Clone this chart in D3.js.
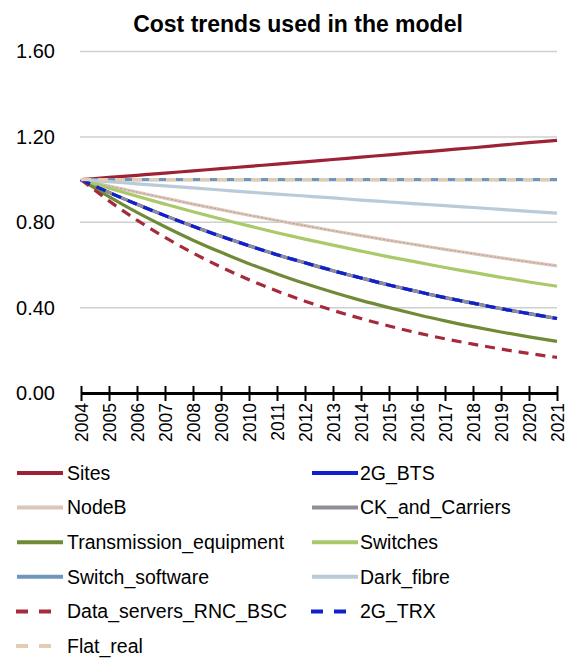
<!DOCTYPE html>
<html>
<head>
<meta charset="utf-8">
<script src="https://cdn.jsdelivr.net/npm/d3@7/dist/d3.min.js"></script>
<style>
  body { margin: 0; background: #ffffff; }
  text { font-family: Arial, "Liberation Sans", sans-serif; fill: #000; }
</style>
</head>
<body>
<svg id="chart" width="570" height="658"></svg>
<script>
// Year categories and y-axis ticks
const years = ["2004","2005","2006","2007","2008","2009","2010","2011","2012",
               "2013","2014","2015","2016","2017","2018","2019","2020","2021"];
const yTicks = [0, 0.4, 0.8, 1.2, 1.6];

// Cost index per series (2004 = 1.00)
const sites = [1.000,1.010,1.020,1.030,1.041,1.051,1.062,1.072,1.083,1.094,1.105,1.116,1.127,1.138,1.149,1.161,1.173,1.184];
const bts2g = [1.000,0.940,0.884,0.831,0.781,0.734,0.690,0.648,0.610,0.573,0.539,0.506,0.476,0.447,0.421,0.395,0.372,0.349];
const nodeB = [1.000,0.970,0.941,0.913,0.885,0.859,0.833,0.808,0.784,0.760,0.737,0.715,0.694,0.673,0.653,0.633,0.614,0.596];
const ckCarriers = [1.000,0.940,0.884,0.831,0.781,0.734,0.690,0.648,0.610,0.573,0.539,0.506,0.476,0.447,0.421,0.395,0.372,0.349];
const transmission = [1.000,0.920,0.846,0.779,0.716,0.659,0.606,0.558,0.513,0.472,0.434,0.400,0.368,0.338,0.311,0.286,0.263,0.242];
const switches = [1.000,0.960,0.922,0.885,0.849,0.815,0.783,0.751,0.721,0.693,0.665,0.638,0.613,0.588,0.565,0.542,0.520,0.500];
const switchSoftware = [1.000,1.000,1.000,1.000,1.000,1.000,1.000,1.000,1.000,1.000,1.000,1.000,1.000,1.000,1.000,1.000,1.000,1.000];
const darkFibre = [1.000,0.990,0.980,0.970,0.961,0.951,0.941,0.932,0.923,0.914,0.904,0.895,0.886,0.878,0.869,0.860,0.851,0.843];
const dataServers = [1.000,0.900,0.810,0.729,0.656,0.590,0.531,0.478,0.430,0.387,0.349,0.314,0.282,0.254,0.229,0.206,0.185,0.167];
const trx2g = [1.000,0.940,0.884,0.831,0.781,0.734,0.690,0.648,0.610,0.573,0.539,0.506,0.476,0.447,0.421,0.395,0.372,0.349];
const flatReal = [1.000,1.000,1.000,1.000,1.000,1.000,1.000,1.000,1.000,1.000,1.000,1.000,1.000,1.000,1.000,1.000,1.000,1.000];

const seriesNames = ["Sites","2G_BTS","NodeB","CK_and_Carriers","Transmission_equipment",
                     "Switches","Switch_software","Dark_fibre","Data_servers_RNC_BSC","2G_TRX","Flat_real"];
const seriesValues = [sites, bts2g, nodeB, ckCarriers, transmission,
                      switches, switchSoftware, darkFibre, dataServers, trx2g, flatReal];
const seriesColors = ["#9e2236","#1020cc","#dcc6b8","#8e8d98","#6f8b35",
                      "#a9c96a","#6f97bb","#b9cad8","#a52a3c","#1020cc","#e2ccb4"];
const seriesDashed = [false,false,false,false,false,false,false,false,true,true,true];

const svg = d3.select("#chart");

const x = d3.scalePoint().domain(years).range([81, 557]);
const y = d3.scaleLinear().domain([0, 1.6]).range([393, 51.5]);

// Title
svg.append("text")
  .attr("x", 298).attr("y", 32)
  .attr("text-anchor", "middle")
  .style("font-size", "23px").style("font-weight", "bold")
  .text("Cost trends used in the model");

// Horizontal gridlines
svg.append("g")
  .selectAll("line")
  .data(yTicks.filter(d => d > 0))
  .join("line")
  .attr("x1", 80).attr("x2", 557)
  .attr("y1", d => y(d)).attr("y2", d => y(d))
  .attr("stroke", "#cfcfcf").attr("stroke-width", 1.5);

// Y axis labels (no axis line)
const yAxis = svg.append("g")
  .attr("transform", "translate(58,0)")
  .call(d3.axisLeft(y).tickValues(yTicks).tickFormat(d3.format(".2f")).tickSize(0).tickPadding(3));
yAxis.select(".domain").remove();
yAxis.selectAll("text").style("font-size", "20px").attr("fill", "#000");

// Series lines
const line = d3.line().x((d, i) => x(years[i])).y(d => y(d)).curve(d3.curveMonotoneX);

const lines = svg.append("g");
seriesValues.forEach((vals, i) => {
  lines.append("path")
    .datum(vals)
    .attr("d", line)
    .attr("fill", "none")
    .attr("stroke", seriesColors[i])
    .attr("stroke-width", 3.2)
    .attr("stroke-dasharray", seriesDashed[i] ? "10,7" : null);
  if (seriesNames[i] === "NodeB") {
    // thin inner hatch on the NodeB stroke
    lines.append("path")
      .datum(vals)
      .attr("d", line)
      .attr("fill", "none")
      .attr("stroke", "#b79c9c")
      .attr("stroke-width", 1)
      .attr("stroke-dasharray", "2,2");
  }
});

// X axis with ticks crossing the line
const xAxis = svg.append("g")
  .attr("transform", "translate(0,393)")
  .call(d3.axisBottom(x).tickSize(7).tickSizeOuter(0).tickPadding(10));
xAxis.select(".domain").attr("stroke", "#000").attr("stroke-width", 3);
xAxis.selectAll(".tick line").attr("y1", -7).attr("y2", 8).attr("stroke", "#000").attr("stroke-width", 2);
xAxis.selectAll(".tick text")
  .style("font-size", "17.5px")
  .attr("fill", "#000")
  .attr("transform", "rotate(-90)")
  .attr("x", -10).attr("y", 0).attr("dy", "0.35em")
  .attr("text-anchor", "end");

// Legend in two columns
const legend = svg.append("g");
seriesNames.forEach((name, i) => {
  const col = i % 2, row = Math.floor(i / 2);
  const ly = 473 + row * 34.6;
  const lx0 = col === 0 ? 17 : 312;
  const g = legend.append("g");
  if (seriesDashed[i]) {
    g.append("line")
      .attr("x1", lx0 - 1).attr("x2", lx0 + 35)
      .attr("y1", ly).attr("y2", ly)
      .attr("stroke", seriesColors[i]).attr("stroke-width", 4)
      .attr("stroke-dasharray", "12,11");
  } else {
    g.append("line")
      .attr("x1", lx0).attr("x2", lx0 + 46)
      .attr("y1", ly).attr("y2", ly)
      .attr("stroke", seriesColors[i]).attr("stroke-width", 4);
  }
  g.append("text")
    .attr("x", col === 0 ? 67 : 360)
    .attr("y", ly).attr("dy", "0.35em")
    .style("font-size", "19.5px")
    .text(name);
});
</script>
</body>
</html>
